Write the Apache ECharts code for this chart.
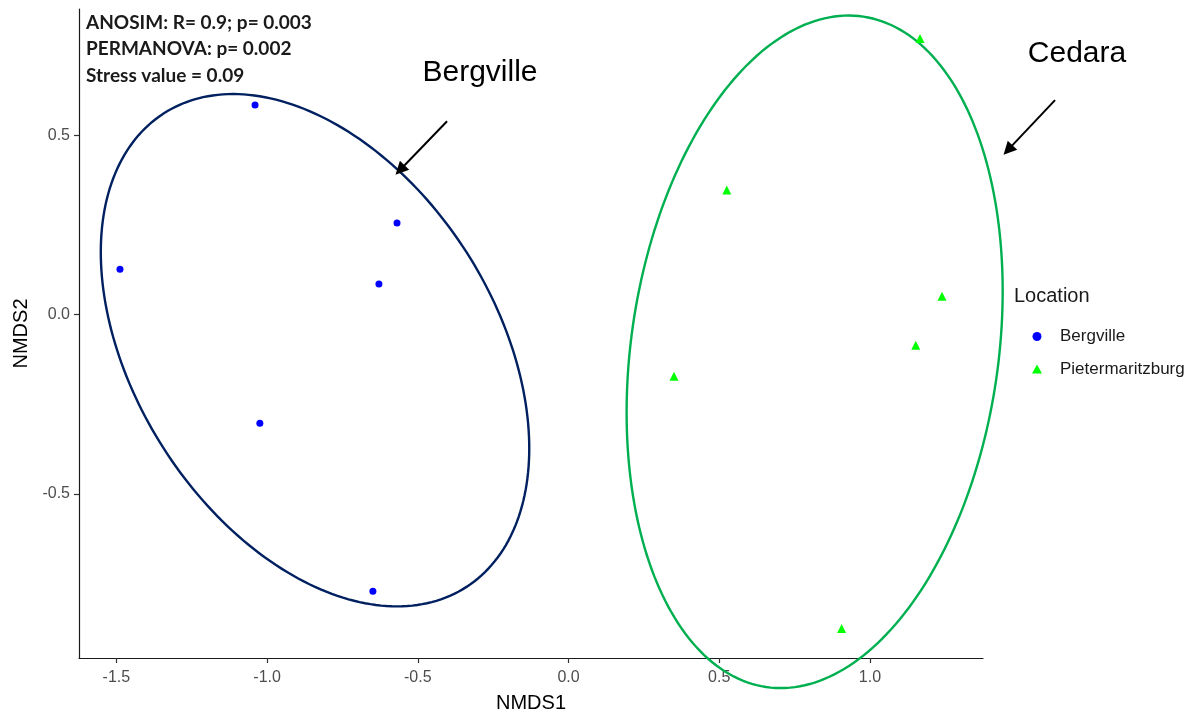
<!DOCTYPE html>
<html><head><meta charset="utf-8">
<script src="https://cdn.jsdelivr.net/npm/echarts@6/dist/echarts.min.js"></script>
<style>html,body{margin:0;padding:0;background:#fff}#c{width:1197px;height:713px}</style>
</head><body><div id="c"></div>
<script>
// ---- data ----
const locations = ['Bergville', 'Pietermaritzburg'];
const bergvilleNMDS1 = [-1.040, -0.569, -1.488, -0.629, -1.024, -0.649];
const bergvilleNMDS2 = [0.584, 0.255, 0.126, 0.085, -0.303, -0.772];
const pmbNMDS1 = [1.166, 0.525, 1.239, 1.152, 0.350, 0.906];
const pmbNMDS2 = [0.770, 0.347, 0.051, -0.086, -0.172, -0.876];
const xTicks = [-1.5, -1.0, -0.5, 0.0, 0.5, 1.0];
const yTicks = [-0.5, 0.0, 0.5];
const statsLines = ['ANOSIM: R= 0.9; p= 0.003', 'PERMANOVA: p= 0.002', 'Stress value = 0.09'];
const groupLabels = ['Bergville', 'Cedara'];
// hand-drawn ellipses (centre and conjugate half-axis vectors, data units)
const bergEllipseCenter = [-0.841, -0.0996];
const bergEllipseU = [0.7107, -0.2735];
const bergEllipseV = [0.0, -0.660];
const cedEllipseCenter = [0.8165, -0.1041];
const cedEllipseU = [0.6238, 0.1691];
const cedEllipseV = [0.0, -0.9224];
// annotation arrows (start -> tip, data units)
const bergArrow = [[-0.403, 0.539], [-0.559, 0.403]];
const cedArrow = [[1.614, 0.598], [1.458, 0.459]];

function zip(xs, ys) { return xs.map((x, i) => [x, ys[i]]); }
function ellipse(c, u, v) {
  const pts = [];
  const n = 240;
  for (let i = 0; i <= n; i++) {
    const t = 2 * Math.PI * i / n;
    pts.push([c[0] + u[0] * Math.cos(t) + v[0] * Math.sin(t), c[1] + u[1] * Math.cos(t) + v[1] * Math.sin(t)]);
  }
  return pts;
}
function ellipseSeries(c, u, v, color) {
  const pts = ellipse(c, u, v);
  return {
    type: 'custom', coordinateSystem: 'cartesian2d', clip: false, silent: true, z: 1,
    data: [c],
    renderItem: (params, api) => ({
      type: 'polyline',
      shape: { points: pts.map(p => api.coord(p)) },
      style: { stroke: color, lineWidth: 2.4, fill: null }
    })
  };
}

const FONT = '"Liberation Sans", Arial, sans-serif';
const chart = echarts.init(document.getElementById('c'), null, { renderer: 'canvas' });

const option = {
  animation: false,
  backgroundColor: '#ffffff',
  grid: { left: 79, right: 214, top: 9, bottom: 55, containLabel: false, outerBoundsMode: 'none' },
  xAxis: {
    type: 'value', min: -1.624, max: 1.375,
    name: 'NMDS1', nameLocation: 'middle', nameGap: 35,
    nameTextStyle: { color: '#000', fontSize: 20, fontFamily: FONT },
    splitLine: { show: false },
    axisLine: { show: true, onZero: false, lineStyle: { color: '#1a1a1a', width: 1.2 } },
    axisTick: { show: true, customValues: xTicks, length: 5, lineStyle: { color: '#333', width: 1.2 } },
    axisLabel: { customValues: xTicks, formatter: v => v.toFixed(1), color: '#4d4d4d', fontSize: 16, margin: 12, fontFamily: FONT }
  },
  yAxis: {
    type: 'value', min: -0.958, max: 0.852,
    name: 'NMDS2', nameLocation: 'middle', nameGap: 43, nameRotate: 90,
    nameTextStyle: { color: '#000', fontSize: 20, fontFamily: FONT },
    splitLine: { show: false },
    axisLine: { show: true, onZero: false, lineStyle: { color: '#1a1a1a', width: 1.2 } },
    axisTick: { show: true, customValues: yTicks, length: 5, lineStyle: { color: '#333', width: 1.2 } },
    axisLabel: { customValues: yTicks, formatter: v => v.toFixed(1), color: '#4d4d4d', fontSize: 16, margin: 9, fontFamily: FONT }
  },
  legend: {
    orient: 'vertical', left: 1027, top: 323,
    itemWidth: 10, itemHeight: 9, itemGap: 15.5,
    data: locations,
    textStyle: { color: '#1a1a1a', fontSize: 17, fontFamily: FONT, lineHeight: 17, padding: [0, 0, 0, 13] }
  },
  series: [
    ellipseSeries(bergEllipseCenter, bergEllipseU, bergEllipseV, '#002060'),
    ellipseSeries(cedEllipseCenter, cedEllipseU, cedEllipseV, '#00B050'),
    {
      type: 'lines', coordinateSystem: 'cartesian2d', clip: false, silent: true,
      symbol: ['none', 'triangle'], symbolSize: 13,
      lineStyle: { color: '#000', width: 2, opacity: 1, curveness: 0 },
      data: [{ coords: bergArrow }, { coords: cedArrow }], z: 3
    },
    {
      name: locations[0], type: 'scatter', data: zip(bergvilleNMDS1, bergvilleNMDS2),
      symbol: 'circle', symbolSize: 7, itemStyle: { color: '#0000FF', opacity: 1 }, z: 5
    },
    {
      name: locations[1], type: 'scatter', data: zip(pmbNMDS1, pmbNMDS2),
      symbol: 'triangle', symbolSize: 9, itemStyle: { color: '#00FF00', opacity: 1 }, z: 5
    }
  ],
  graphic: [
    ...statsLines.map((t, i) => ({
      type: 'text', left: 86, top: 13 + i * 26.6,
      style: { text: t, font: 'bold 19px Lato, "Open Sans", sans-serif', fill: '#1a1a1a' }
    })),
    { type: 'text', x: 480, y: 73, style: { text: groupLabels[0], font: '30px ' + FONT, fill: '#000', align: 'center', verticalAlign: 'middle' } },
    { type: 'text', x: 1077, y: 54, style: { text: groupLabels[1], font: '30px ' + FONT, fill: '#000', align: 'center', verticalAlign: 'middle' } },
    { type: 'text', x: 1014, y: 296, style: { text: 'Location', font: '20px ' + FONT, fill: '#1a1a1a', align: 'left', verticalAlign: 'middle' } }
  ]
};
chart.setOption(option);
</script>
</body></html>
